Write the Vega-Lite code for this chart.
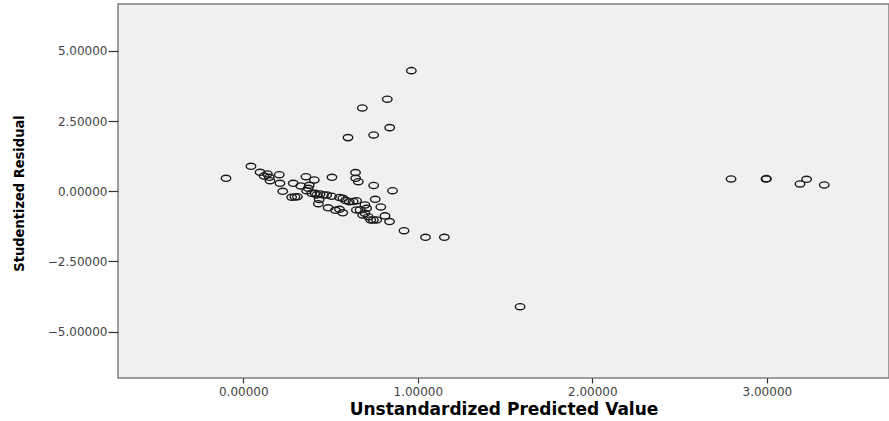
{
  "$schema": "https://vega.github.io/schema/vega-lite/v6.json",
  "width": 771,
  "height": 374,
  "autosize": {"type": "none"},
  "padding": {"left": 118, "top": 4, "right": 0, "bottom": 43},
  "background": "white",
  "config": {
    "view": {"fill": "#F0F0F0", "stroke": "#808080", "strokeWidth": 1.5},
    "axis": {
      "grid": false,
      "domain": false,
      "tickColor": "#333333",
      "tickWidth": 1.2,
      "labelColor": "#444444",
      "labelFont": "DejaVu Sans",
      "labelFontSize": 12,
      "titleColor": "#000000"
    }
  },
  "data": {
    "values": [
      {"pred": -0.099, "resid": 0.463},
      {"pred": 0.044, "resid": 0.890},
      {"pred": 0.096, "resid": 0.677},
      {"pred": 0.119, "resid": 0.545},
      {"pred": 0.138, "resid": 0.616},
      {"pred": 0.149, "resid": 0.499},
      {"pred": 0.153, "resid": 0.378},
      {"pred": 0.206, "resid": 0.591},
      {"pred": 0.210, "resid": 0.285},
      {"pred": 0.226, "resid": 0.000},
      {"pred": 0.277, "resid": -0.214},
      {"pred": 0.286, "resid": 0.285},
      {"pred": 0.296, "resid": -0.203},
      {"pred": 0.310, "resid": -0.192},
      {"pred": 0.329, "resid": 0.189},
      {"pred": 0.359, "resid": 0.520},
      {"pred": 0.363, "resid": 0.021},
      {"pred": 0.372, "resid": 0.107},
      {"pred": 0.378, "resid": 0.214},
      {"pred": 0.392, "resid": -0.071},
      {"pred": 0.407, "resid": 0.403},
      {"pred": 0.411, "resid": -0.071},
      {"pred": 0.421, "resid": -0.132},
      {"pred": 0.435, "resid": -0.292},
      {"pred": 0.430, "resid": -0.442},
      {"pred": 0.440, "resid": -0.096},
      {"pred": 0.460, "resid": -0.132},
      {"pred": 0.478, "resid": -0.132},
      {"pred": 0.486, "resid": -0.588},
      {"pred": 0.506, "resid": -0.175},
      {"pred": 0.508, "resid": 0.499},
      {"pred": 0.528, "resid": -0.677},
      {"pred": 0.551, "resid": -0.221},
      {"pred": 0.551, "resid": -0.641},
      {"pred": 0.570, "resid": -0.249},
      {"pred": 0.570, "resid": -0.766},
      {"pred": 0.586, "resid": -0.324},
      {"pred": 0.607, "resid": -0.371},
      {"pred": 0.629, "resid": -0.363},
      {"pred": 0.643, "resid": 0.666},
      {"pred": 0.644, "resid": 0.463},
      {"pred": 0.659, "resid": 0.342},
      {"pred": 0.649, "resid": -0.335},
      {"pred": 0.648, "resid": -0.666},
      {"pred": 0.669, "resid": -0.666},
      {"pred": 0.697, "resid": -0.488},
      {"pred": 0.707, "resid": -0.606},
      {"pred": 0.697, "resid": -0.784},
      {"pred": 0.684, "resid": -0.844},
      {"pred": 0.716, "resid": -0.905},
      {"pred": 0.730, "resid": -1.022},
      {"pred": 0.745, "resid": -1.022},
      {"pred": 0.764, "resid": -1.022},
      {"pred": 0.747, "resid": 0.206},
      {"pred": 0.756, "resid": -0.285},
      {"pred": 0.788, "resid": -0.559},
      {"pred": 0.812, "resid": -0.876},
      {"pred": 0.838, "resid": -1.079},
      {"pred": 0.855, "resid": 0.021},
      {"pred": 0.921, "resid": -1.403},
      {"pred": 1.044, "resid": -1.639},
      {"pred": 1.152, "resid": -1.639},
      {"pred": 1.586, "resid": -4.110},
      {"pred": 0.963, "resid": 4.296},
      {"pred": 0.825, "resid": 3.278},
      {"pred": 0.682, "resid": 2.968},
      {"pred": 0.839, "resid": 2.267},
      {"pred": 0.747, "resid": 2.007},
      {"pred": 0.600, "resid": 1.911},
      {"pred": 2.795, "resid": 0.438},
      {"pred": 2.995, "resid": 0.438},
      {"pred": 2.998, "resid": 0.450},
      {"pred": 3.190, "resid": 0.260},
      {"pred": 3.228, "resid": 0.428},
      {"pred": 3.329, "resid": 0.225}
    ]
  },
  "mark": {
    "type": "point",
    "shape": "M-1,0A1,0.65,0,1,0,1,0A1,0.65,0,1,0,-1,0Z",
    "size": 90,
    "filled": false,
    "stroke": "#1a1a1a",
    "strokeWidth": 1.4,
    "opacity": 1,
    "clip": true
  },
  "encoding": {
    "x": {
      "field": "pred",
      "type": "quantitative",
      "scale": {"domain": [-0.718, 3.70], "nice": false, "zero": false},
      "axis": {
        "values": [0, 1, 2, 3],
        "format": ".5f",
        "tickSize": 5,
        "labelPadding": 3,
        "title": "Unstandardized Predicted Value",
        "titleFont": "DejaVu Sans",
        "titleFontSize": 17,
        "titleFontWeight": "bold",
        "titlePadding": 4
      }
    },
    "y": {
      "field": "resid",
      "type": "quantitative",
      "scale": {"domain": [-6.65, 6.67], "nice": false, "zero": false},
      "axis": {
        "values": [-5, -2.5, 0, 2.5, 5],
        "format": ".5f",
        "tickSize": 10,
        "labelPadding": 1,
        "title": "Studentized Residual",
        "titleFont": "DejaVu Sans Condensed",
        "titleFontSize": 14.5,
        "titleFontWeight": "bold",
        "titlePadding": 0,
        "titleX": -99,
        "titleY": 189,
        "titleAngle": -90,
        "titleAlign": "center",
        "titleBaseline": "middle"
      }
    }
  }
}
